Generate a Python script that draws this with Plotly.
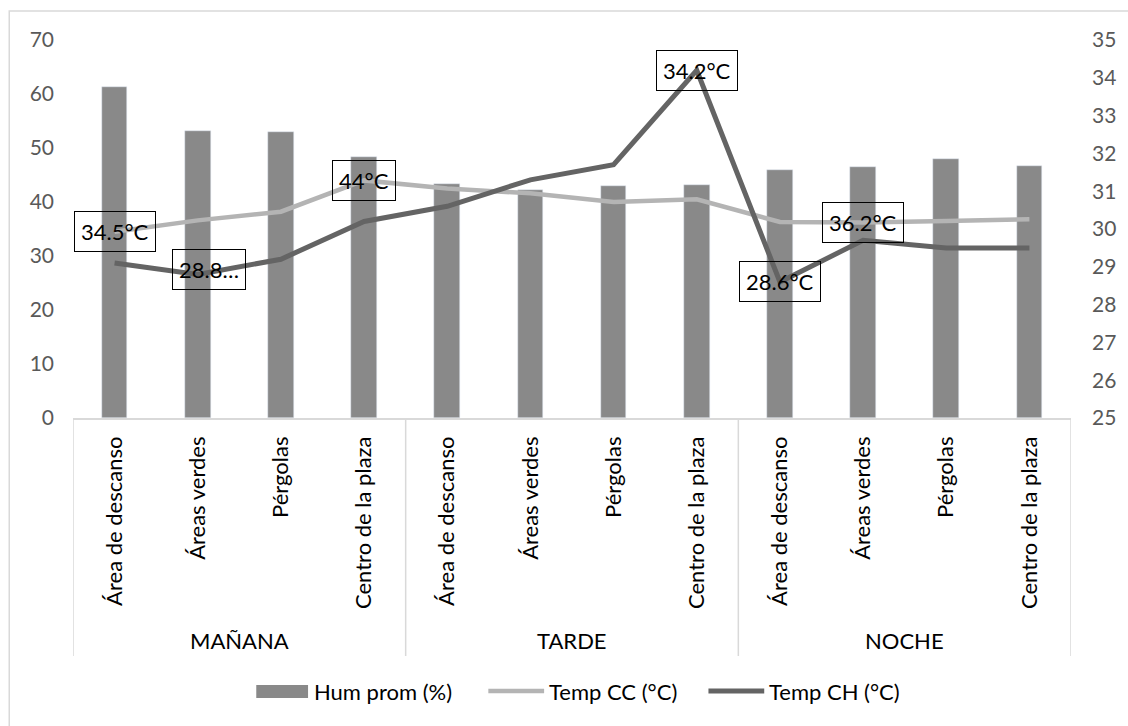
import plotly.graph_objects as go

# Zonas medidas en cada franja horaria
zonas = ["Área de descanso", "Áreas verdes", "Pérgolas", "Centro de la plaza"]
franjas = ["MAÑANA", "TARDE", "NOCHE"]

# Series por punto (franja x zona)
hum_prom = [61.3, 53.1, 52.9, 48.4, 43.4, 42.2, 43.0, 43.2, 45.9, 46.5, 47.9, 46.6]
temp_cc = [34.5, 36.6, 38.2, 44.0, 42.5, 41.6, 40.0, 40.5, 36.3, 36.2, 36.5, 36.8]
temp_ch = [29.1, 28.8, 29.2, 30.2, 30.6, 31.3, 31.7, 34.2, 28.6, 29.7, 29.5, 29.5]

# Puntos con etiqueta de valor
etiquetas_cc = [0, 3, 9]
etiquetas_ch = [1, 7, 8]

n = len(zonas) * len(franjas)
xs = list(range(n))
ticktext = zonas * len(franjas)

FONT = "Lato"
GRIS_BARRA = "#898989"
GRIS_CC = "#B4B4B4"
GRIS_CH = "#646464"
GRIS_EJE = "#D9D9D9"

# Área de trazado en píxeles (para ubicar leyenda y marco)
W, H = 1128, 726
ML, MR, MT, MB = 73, 53, 40, 308
PW, PH = W - ML - MR, H - MT - MB


def px(xp):
    return (xp - ML) / PW


def py(yp):
    return (H - MB - yp) / PH


fig = go.Figure()
fig.add_trace(go.Bar(x=xs, y=hum_prom, name="Hum prom (%)", marker_color=GRIS_BARRA,
                     width=0.31, yaxis="y"))
fig.add_trace(go.Scatter(x=xs, y=temp_cc, name="Temp CC (°C)", mode="lines",
                         line=dict(color=GRIS_CC, width=4.5), yaxis="y"))
fig.add_trace(go.Scatter(x=xs, y=temp_ch, name="Temp CH (°C)", mode="lines",
                         line=dict(color=GRIS_CH, width=5), yaxis="y2"))


def fmt(v):
    return f"{v:g}°C"


anns = []
for i in etiquetas_cc:
    anns.append(dict(x=xs[i], y=temp_cc[i], xref="x", yref="y", text=fmt(temp_cc[i]),
                     showarrow=False, bordercolor="black", borderwidth=1, borderpad=6,
                     font=dict(family=FONT, size=22, color="black")))
for i in etiquetas_ch:
    txt = fmt(temp_ch[i]) if i != 1 else f"{temp_ch[i]:.1f}…"
    extra = dict(xshift=11, yshift=5) if i == 1 else {}
    anns.append(dict(x=xs[i], y=temp_ch[i], xref="x", yref="y2", text=txt,
                     showarrow=False, bordercolor="black", borderwidth=1, borderpad=6,
                     font=dict(family=FONT, size=22, color="black"), **extra))

# Nombres de las franjas bajo las zonas
for k, f in enumerate(franjas):
    anns.append(dict(x=k * 4 + 1.5, y=py(640), xref="x", yref="paper", text=f,
                     yanchor="middle", showarrow=False,
                     font=dict(family=FONT, size=22, color="black")))

shapes = []
# Separadores de franja
for k in range(len(franjas) + 1):
    shapes.append(dict(type="line", xref="x", yref="paper", x0=k * 4 - 0.5, x1=k * 4 - 0.5,
                       y0=0, y1=py(656), line=dict(color=GRIS_EJE, width=1.5)))
# Marco del gráfico
shapes.append(dict(type="rect", xref="paper", yref="paper", x0=px(9), x1=px(1140),
                   y0=py(740), y1=py(11), line=dict(color=GRIS_EJE, width=1.5),
                   layer="below"))

# Leyenda inferior
trazas = fig.data
ley_y = 691
shapes.append(dict(type="rect", xref="paper", yref="paper", x0=px(257), x1=px(309),
                   y0=py(698), y1=py(685), fillcolor=GRIS_BARRA, line=dict(width=0)))
shapes.append(dict(type="line", xref="paper", yref="paper", x0=px(490), x1=px(546),
                   y0=py(ley_y), y1=py(ley_y), line=dict(color=GRIS_CC, width=4.5)))
shapes.append(dict(type="line", xref="paper", yref="paper", x0=px(711), x1=px(767),
                   y0=py(ley_y), y1=py(ley_y), line=dict(color=GRIS_CH, width=5)))
for tr, x_txt in zip(trazas, [313, 549, 770]):
    anns.append(dict(x=px(x_txt), y=py(ley_y), xref="paper", yref="paper", text=tr.name,
                     xanchor="left", yanchor="middle", showarrow=False,
                     font=dict(family=FONT, size=22, color="black")))

fig.update_layout(
    width=W, height=H,
    margin=dict(l=ML, r=MR, t=MT, b=MB),
    plot_bgcolor="white", paper_bgcolor="white",
    font=dict(family=FONT, size=21, color="#595959"),
    showlegend=False,
    xaxis=dict(range=[-0.5, n - 0.5], tickmode="array", tickvals=xs, ticktext=ticktext,
               tickangle=-90, showgrid=False, zeroline=False, showline=True,
               linecolor=GRIS_EJE, linewidth=1.5, ticks="", ticklabelstandoff=8,
               tickfont=dict(family=FONT, size=22, color="black")),
    yaxis=dict(range=[0, 70], dtick=10, showgrid=False, zeroline=False, showline=False,
               ticks="", ticklabelstandoff=18,
               tickfont=dict(family=FONT, size=21, color="#595959")),
    yaxis2=dict(range=[25, 35], dtick=1, overlaying="y", side="right", showgrid=False,
                zeroline=False, showline=False, ticks="", ticklabelstandoff=20,
                tickfont=dict(family=FONT, size=21, color="#595959")),
    annotations=anns,
    shapes=shapes,
    bargap=0,
)

fig.write_html("out.html")
